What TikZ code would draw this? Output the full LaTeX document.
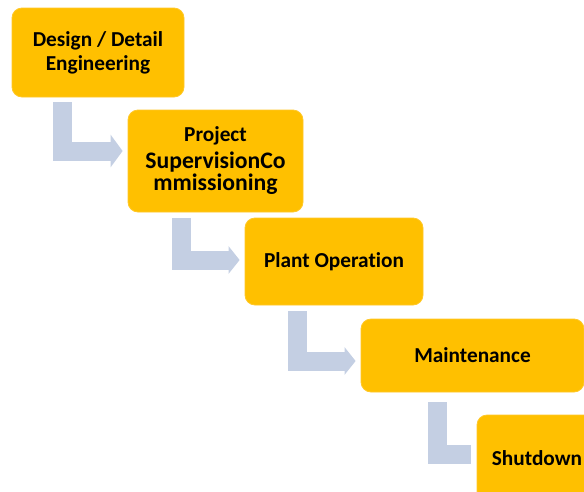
\documentclass[tikz,border=0pt]{standalone}
\usepackage{fontspec}
\setmainfont{Carlito}[Ligatures=NoCommon]
\usepackage{tikz}
\usetikzlibrary{arrows.meta}
\usetikzlibrary{positioning}
\definecolor{stagefill}{RGB}{255,192,0}
\definecolor{stagerim}{RGB}{255,200,40}
\definecolor{flowblue}{RGB}{196,207,227}
\tikzset{
    stage/.style={
        draw=stagerim,
        fill=stagefill,
        rounded corners=10pt,
        line width=0.8pt,
        inner sep=0pt,
        align=center,
        font=\fontsize{21.3}{24}\selectfont\bfseries
    },
    flow/.style={
        draw=flowblue,
        line width=19pt,
        -{Triangle[length=11pt, width=27pt]}
    }
}

\begin{document}
\begin{tikzpicture}[x=1pt, y=-1pt]
    \clip (0,0) rectangle (584,491);
    \fill[white] (0,0) rectangle (584,491);

    \node[stage, minimum width=172pt, minimum height=89pt] (design) at (98,52.5) {Design / Detail\\Engineering};
    \node[stage, minimum width=175pt, minimum height=102pt] (project) at (215.5,161)
        {Project\\[3pt]{\fontsize{23.7}{24}\selectfont SupervisionCo}\\[-2pt]{\fontsize{23.7}{24}\selectfont mmissioning}};
    \node[stage, minimum width=178pt, minimum height=87pt] (plant) at (334,261.5) {Plant Operation};
    \node[stage, minimum width=223pt, minimum height=73pt] (maint) at (472.5,355.5) {Maintenance};
    \node[stage, minimum width=120pt, minimum height=86pt] (shut) at (537,458) {Shutdown};

    \draw[flow, -{Triangle[length=12pt, width=32pt]}] ([xshift=-35.5pt,yshift=-5pt]design.south) |- ([xshift=-5pt,yshift=10pt]project.west);
    \draw[flow] ([xshift=-34.5pt,yshift=-6pt]project.south) |- ([xshift=-5pt,yshift=1.5pt]plant.west);
    \draw[flow] ([xshift=-36.5pt,yshift=-6pt]plant.south) |- ([xshift=-5pt,yshift=-5.5pt]maint.west);
    \draw[flow, -] ([xshift=-35pt,yshift=-10pt]maint.south) |- ([xshift=-6pt,yshift=3.5pt]shut.west);
\end{tikzpicture}
\end{document}
